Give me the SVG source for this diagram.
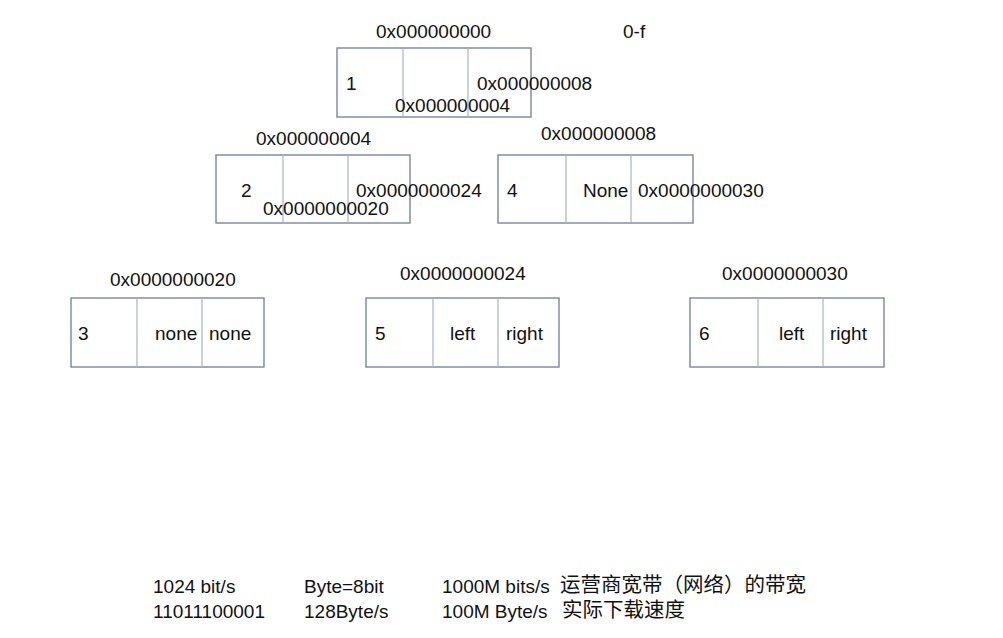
<svg xmlns="http://www.w3.org/2000/svg" width="1003" height="638" viewBox="0 0 1003 638">
<style>
.box{fill:#fff;stroke:#7885a8;stroke-width:1.4}
.div{stroke:#aab3cc;stroke-width:1.2}
text{font-family:"Liberation Sans",Arial,sans-serif;font-size:19px;fill:#111}
.cjk{font-family:"Noto Sans CJK SC","Liberation Sans",sans-serif;font-size:20.5px}
</style>
<rect width="1003" height="638" fill="#fff"/>
<g id="connectors"></g>
<g id="node1">
<text x="376" y="38">0x000000000</text>
<rect class="box" x="337" y="48" width="194" height="69"/>
<line class="div" x1="403" y1="48" x2="403" y2="117"/>
<line class="div" x1="468" y1="48" x2="468" y2="117"/>
<text x="346" y="90">1</text>
<text x="477" y="90">0x000000008</text>
<text x="395" y="112">0x000000004</text>
</g>
<text id="range" x="623" y="38">0-f</text>
<g id="node2">
<text x="256" y="145">0x000000004</text>
<rect class="box" x="216" y="155" width="194" height="68"/>
<line class="div" x1="283" y1="155" x2="283" y2="223"/>
<line class="div" x1="348" y1="155" x2="348" y2="223"/>
<text x="241" y="197">2</text>
<text x="356" y="197">0x0000000024</text>
<text x="263" y="215">0x0000000020</text>
</g>
<g id="node4">
<text x="541" y="140">0x000000008</text>
<rect class="box" x="498" y="155" width="195" height="68"/>
<line class="div" x1="566" y1="155" x2="566" y2="223"/>
<line class="div" x1="631" y1="155" x2="631" y2="223"/>
<text x="507" y="197">4</text>
<text x="583" y="197">None</text>
<text x="638" y="197">0x0000000030</text>
</g>
<g id="node3">
<text x="110" y="286">0x0000000020</text>
<rect class="box" x="71" y="298" width="193" height="69"/>
<line class="div" x1="137" y1="298" x2="137" y2="367"/>
<line class="div" x1="202" y1="298" x2="202" y2="367"/>
<text x="78" y="340">3</text>
<text x="155" y="340">none</text>
<text x="209" y="340">none</text>
</g>
<g id="node5">
<text x="400" y="280">0x0000000024</text>
<rect class="box" x="366" y="298" width="193" height="69"/>
<line class="div" x1="433" y1="298" x2="433" y2="367"/>
<line class="div" x1="498" y1="298" x2="498" y2="367"/>
<text x="375" y="340">5</text>
<text x="450" y="340">left</text>
<text x="506" y="340">right</text>
</g>
<g id="node6">
<text x="722" y="280">0x0000000030</text>
<rect class="box" x="690" y="298" width="194" height="69"/>
<line class="div" x1="758" y1="298" x2="758" y2="367"/>
<line class="div" x1="823" y1="298" x2="823" y2="367"/>
<text x="699" y="340">6</text>
<text x="779" y="340">left</text>
<text x="830" y="340">right</text>
</g>
<g id="notes">
<text x="153" y="593">1024 bit/s</text>
<text x="304" y="593">Byte=8bit</text>
<text x="442" y="593">1000M bits/s</text>
<text class="cjk" x="560" y="592">运营商宽带（网络）的带宽</text>
<text x="153" y="618">11011100001</text>
<text x="304" y="618">128Byte/s</text>
<text x="442" y="618">100M Byte/s</text>
<text class="cjk" x="562" y="617">实际下载速度</text>
</g>
</svg>
